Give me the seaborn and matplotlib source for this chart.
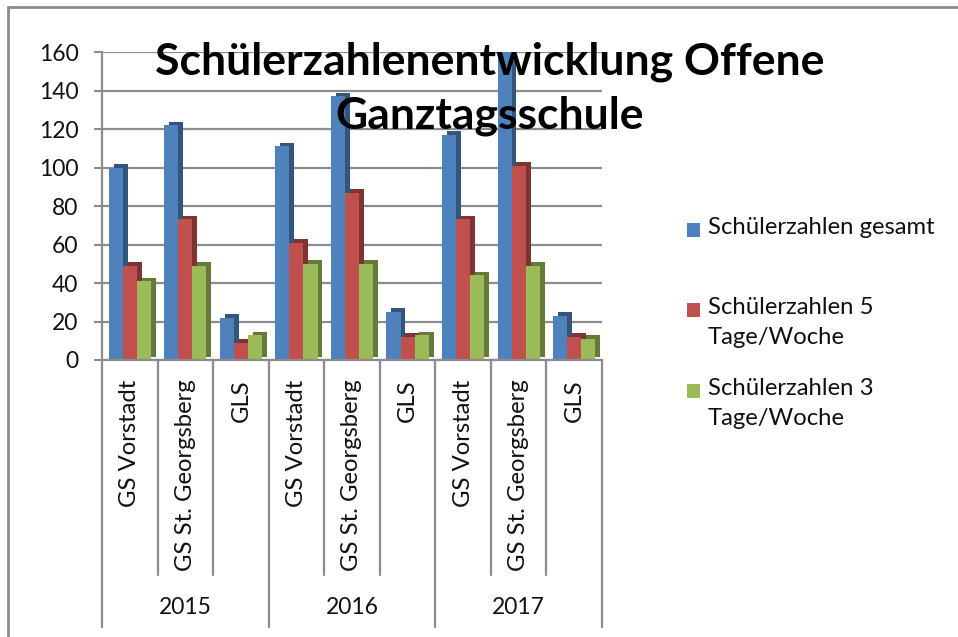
import matplotlib
matplotlib.use("Agg")
import matplotlib.pyplot as plt
import matplotlib.patheffects as pe
from matplotlib.patches import Rectangle
import seaborn as sns
import pandas as pd

years = ["2015", "2016", "2017"]
schools = ["GS Vorstadt", "GS St. Georgsberg", "GLS"]
series = ["Schülerzahlen gesamt", "Schülerzahlen 5\nTage/Woche", "Schülerzahlen 3\nTage/Woche"]
gesamt = [100, 122, 22, 111, 137, 25, 117, 160, 23]
tage5 = [49, 73, 9, 61, 87, 12, 73, 101, 12]
tage3 = [41, 49, 13, 50, 50, 13, 44, 49, 11]
yticks = [0, 20, 40, 60, 80, 100, 120, 140, 160]
title = "Schülerzahlenentwicklung Offene\nGanztagsschule"
colors = ["#4F81BD", "#C0504D", "#9BBB59"]

keys = [f"{y}|{s}" for y in years for s in schools]
rows = []
for name, vals in zip(series, [gesamt, tage5, tage3]):
    for k, v in zip(keys, vals):
        rows.append({"cat": k, "series": name, "value": v})
df = pd.DataFrame(rows)

sns.set_theme(style="white")
plt.rcParams["font.family"] = ["Lato", "DejaVu Sans"]

W, H = 958, 637
fig = plt.figure(figsize=(W / 100, H / 100), dpi=100)
ax_l, ax_r, ax_t, ax_b = 102, 602, 52, 360
ax = fig.add_axes([ax_l / W, 1 - ax_b / H, (ax_r - ax_l) / W, (ax_b - ax_t) / H])

sns.barplot(data=df, x="cat", y="value", hue="series", order=keys, hue_order=series,
            palette=colors, width=0.76, ax=ax, saturation=1, legend=False,
            linewidth=0, edgecolor="none")

for bar in ax.patches:
    bar.set_path_effects([pe.SimplePatchShadow(offset=(3.5, 2.5), rho=0.65, alpha=1), pe.Normal()])

FS = 17.2
ax.set_ylim(0, 160)
ax.set_xlim(-0.5, len(keys) - 0.5)
ax.set_yticks(yticks)
ax.set_yticklabels([str(t) for t in yticks], fontsize=16.5, color="#111111")
ax.yaxis.grid(True, color="#8c8c8c", lw=1.6)
ax.set_axisbelow(True)
ax.tick_params(axis="y", length=6, width=1.5, color="#8c8c8c", pad=11, left=True)
ax.set_xlabel("")
ax.set_ylabel("")
for s in ["top", "right"]:
    ax.spines[s].set_visible(False)
for s in ["left", "bottom"]:
    ax.spines[s].set_color("#8c8c8c")
    ax.spines[s].set_linewidth(1.6)

ax.set_xticks(range(len(keys)))
ax.set_xticklabels([k.split("|")[1] for k in keys], rotation=90, fontsize=FS, color="#111111")
ax.tick_params(axis="x", length=0, pad=14)

trans = ax.get_xaxis_transform()
y_inner = (ax_b - 575) / (ax_b - ax_t)
y_outer = (ax_b - 627) / (ax_b - ax_t)
y_year = (ax_b - 608) / (ax_b - ax_t)
for i in range(len(keys) + 1):
    x = i - 0.5
    yb = y_outer if i % 3 == 0 else y_inner
    ax.plot([x, x], [0, yb], transform=trans, color="#8c8c8c", lw=1.6, clip_on=False)
for j, y in enumerate(years):
    ax.text(3 * j + 1, y_year, y, transform=trans, ha="center", va="center", fontsize=16.5, color="#111111")

# legend (Excel style: square aligned with first text line)
leg_y = [230, 310, 391]
for name, col, yc in zip(series, colors, leg_y):
    fig.add_artist(Rectangle((687 / W, 1 - (yc + 7) / H), 13 / W, 14 / H, transform=fig.transFigure,
                             facecolor=col, edgecolor="none"))
    fig.text(708 / W, 1 - (yc - 13) / H, name, ha="left", va="top", fontsize=FS,
             linespacing=1.55, color="#111111")

fig.text(490 / W, 1 - 89 / H, title, ha="center", va="center", fontsize=32, fontweight="bold",
         linespacing=1.4, color="#000000")

# chart frame (top and left)
fig.add_artist(plt.Line2D([8 / W, 1], [1 - 7 / H, 1 - 7 / H], color="#8c8c8c", lw=2))
fig.add_artist(plt.Line2D([8 / W, 8 / W], [1 - 7 / H, 0], color="#8c8c8c", lw=2))

fig.savefig("out.png", dpi=100)
